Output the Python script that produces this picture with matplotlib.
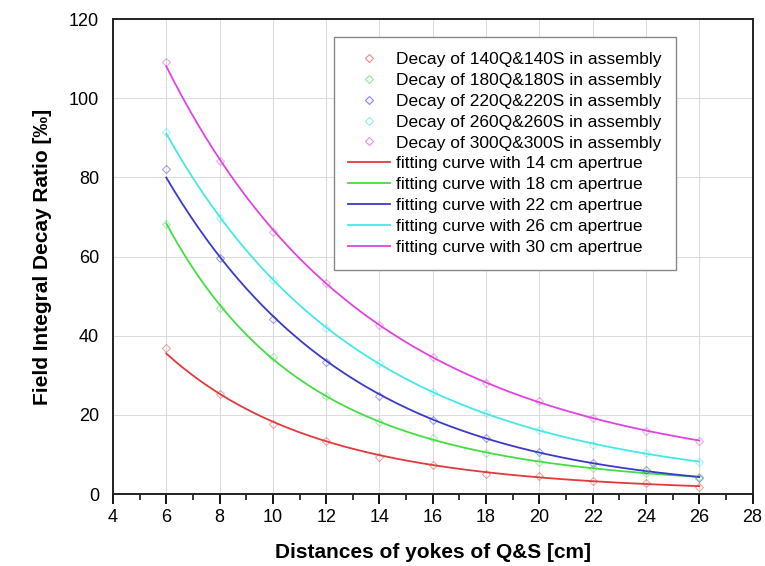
import numpy as np
import matplotlib
matplotlib.use("Agg")
import matplotlib.pyplot as plt
from matplotlib.ticker import MultipleLocator

plt.rcParams['font.family'] = ['Liberation Sans', 'DejaVu Sans']

# distances of yokes [cm]
distances = [6, 8, 10, 12, 14, 16, 18, 20, 22, 24, 26]

decay_140 = [36.8, 25.3, 17.6, 13.5, 9.4, 7.3, 5.1, 4.6, 3.4, 2.7, 1.8]
decay_180 = [68.1, 47.1, 34.7, 24.8, 18.3, 14.2, 10.3, 8.0, 6.5, 5.2, 4.4]
decay_220 = [82.0, 59.5, 44.2, 33.4, 24.8, 18.7, 14.1, 10.7, 7.8, 6.1, 4.1]
decay_260 = [91.4, 69.7, 54.1, 42.0, 33.0, 25.8, 20.4, 16.2, 12.4, 10.3, 8.2]
decay_300 = [109.1, 84.1, 66.1, 53.2, 42.7, 34.7, 28.0, 23.5, 19.1, 16.0, 13.5]

point_labels = ["Decay of 140Q&140S in assembly", "Decay of 180Q&180S in assembly",
                "Decay of 220Q&220S in assembly", "Decay of 260Q&260S in assembly",
                "Decay of 300Q&300S in assembly"]
fit_labels = ["fitting curve with 14 cm apertrue", "fitting curve with 18 cm apertrue",
              "fitting curve with 22 cm apertrue", "fitting curve with 26 cm apertrue",
              "fitting curve with 30 cm apertrue"]
colors = ["#e03a3a", "#44dd44", "#3a3ac8", "#44e8e8", "#e044e0"]

series = [decay_140, decay_180, decay_220, decay_260, decay_300]

fig = plt.figure(figsize=(7.65, 5.66), dpi=100)
ax = fig.add_axes([0.1477, 0.1272, 0.836, 0.8392])

x = np.array(distances)
xs = np.linspace(x.min(), x.max(), 200)

point_handles = []
line_handles = []
for ys, c, pl, fl in zip(series, colors, point_labels, fit_labels):
    ys = np.array(ys)
    # smooth fit in log space through the measured points
    coef = np.polyfit(x, np.log(ys), 2)
    ln, = ax.plot(xs, np.exp(np.polyval(coef, xs)), color=c, lw=1.3, label=fl, zorder=3)
    pt, = ax.plot(x, ys, ls='none', marker='D', ms=4.5, mfc='none', mec=c,
                  mew=0.8, alpha=0.45, label=pl, zorder=4)
    point_handles.append(pt)
    line_handles.append(ln)

ax.set_xlim(4, 28)
ax.set_ylim(0, 120)
ax.xaxis.set_major_locator(MultipleLocator(2))
ax.xaxis.set_minor_locator(MultipleLocator(1))
ax.yaxis.set_major_locator(MultipleLocator(20))
ax.grid(True, which='major', color='#dcdcdc', lw=0.8)
ax.set_axisbelow(True)
ax.tick_params(axis='x', which='major', direction='out', length=7, width=1.3, labelsize=13, pad=4)
ax.tick_params(axis='x', which='minor', direction='out', length=4, width=1.1)
ax.tick_params(axis='y', which='major', direction='out', length=0, labelsize=13, pad=10)
for s in ax.spines.values():
    s.set_linewidth(1.4)
    s.set_color('#222222')

ax.set_xlabel("Distances of yokes of Q&S [cm]", fontsize=15, fontweight='bold', labelpad=12)
ax.set_ylabel("Field Integral Decay Ratio [‰]", fontsize=15, fontweight='bold', labelpad=12)

leg = ax.legend(point_handles + line_handles, point_labels + fit_labels,
                loc='upper right', bbox_to_anchor=(0.881, 0.962), fontsize=12.5,
                frameon=True, fancybox=False, edgecolor='#888888', framealpha=1,
                handlelength=2.4, handletextpad=0.35, labelspacing=0.33,
                borderpad=0.85, borderaxespad=0)
leg.get_frame().set_linewidth(1.0)
for h in leg.legend_handles[:5]:
    h.set_alpha(0.6)

fig.savefig("out.png", dpi=100)
